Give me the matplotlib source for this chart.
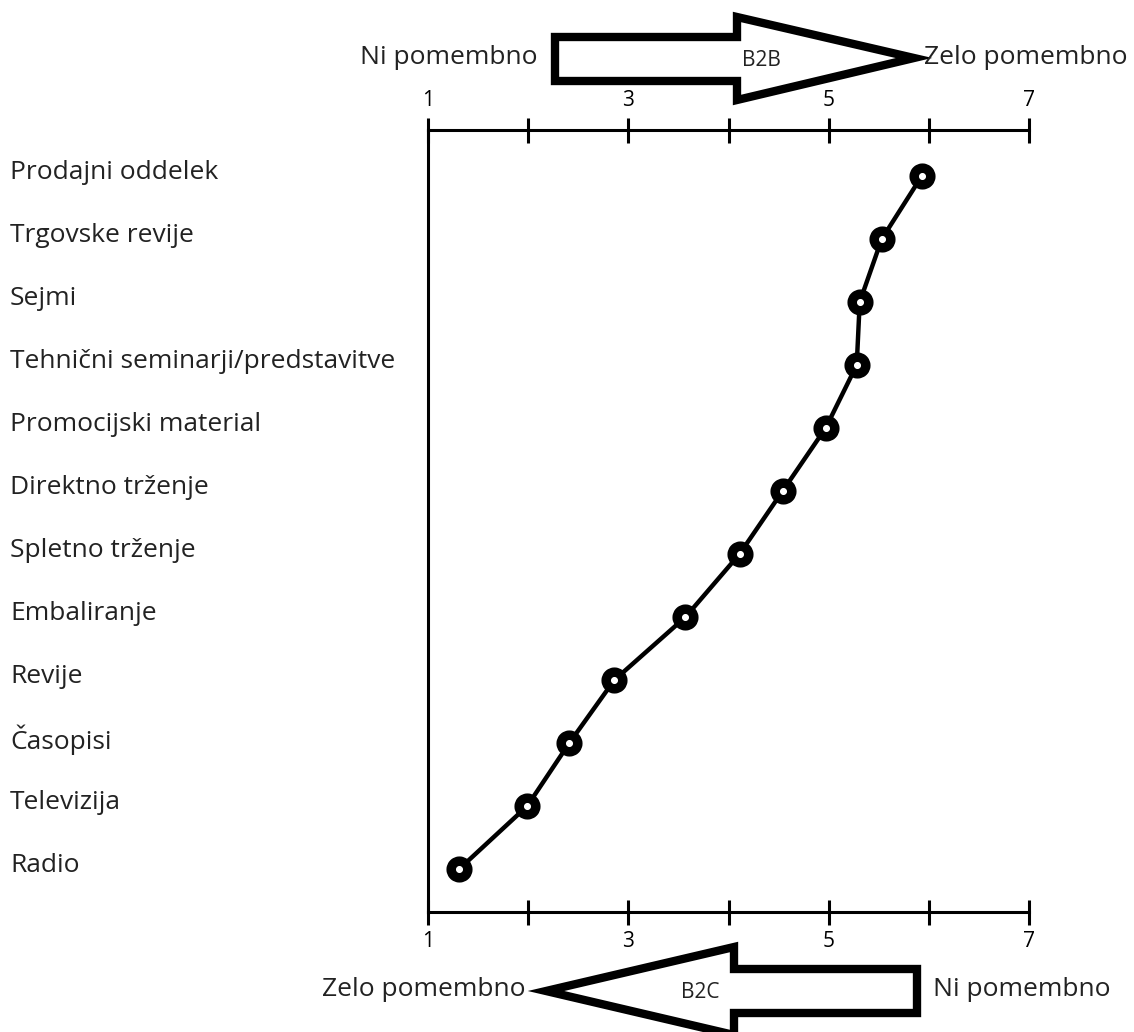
import numpy as np
import matplotlib.pyplot as plt
from matplotlib.patches import Polygon
from matplotlib.ticker import FixedLocator, NullFormatter
from matplotlib.transforms import blended_transform_factory

plt.rcParams['font.family'] = ['Open Sans', 'DejaVu Sans']

categories = ['Prodajni oddelek', 'Trgovske revije', 'Sejmi',
              'Tehnični seminarji/predstavitve', 'Promocijski material',
              'Direktno trženje', 'Spletno trženje', 'Embaliranje', 'Revije',
              'Časopisi', 'Televizija', 'Radio']
scores = [5.93, 5.53, 5.31, 5.28, 4.97, 4.54, 4.11, 3.57, 2.86, 2.41, 1.99, 1.31]
major_ticks = [1, 3, 5, 7]
minor_ticks = [2, 4, 6]

W, H = 1134, 1032


def px(x, y):
    # pixel position (from top-left) -> figure fraction
    return x / W, 1 - y / H


fig = plt.figure(figsize=(W / 100, H / 100), dpi=100)
left, top = px(428, 130)
right, bottom = px(1029, 912)
ax = fig.add_axes([left, bottom, right - left, top - bottom])

ypos = np.arange(len(categories))
ax.plot(scores, ypos, color='black', linewidth=3.2, marker='o', markersize=12,
        markerfacecolor='white', markeredgecolor='black', markeredgewidth=6.8,
        zorder=3, clip_on=False)

ax.set_xlim(1, 7)
ax.set_ylim(11.68, -0.73)

for side in ['top', 'bottom', 'left']:
    ax.spines[side].set_linewidth(2.2)
ax.spines['right'].set_visible(False)

ax.xaxis.set_major_locator(FixedLocator(major_ticks))
ax.xaxis.set_minor_locator(FixedLocator(minor_ticks))
ax.xaxis.set_minor_formatter(NullFormatter())
ax.set_xticklabels([str(t) for t in major_ticks])
ax.tick_params(axis='x', which='both', top=True, bottom=True, labeltop=True,
               labelbottom=True, direction='inout', length=18, width=2.2,
               labelsize=15, pad=5)
ax.set_yticks([])

# category labels at the left edge
lab_tr = blended_transform_factory(fig.transFigure, ax.transData)
for y, name in zip(ypos, categories):
    ax.text(10 / W, y - 0.06, name, transform=lab_tr,
            ha='left', va='center', fontsize=19, color='#222222')

# top arrow (B2B, pointing right)
top_arrow = [(555, 37), (737, 37), (737, 17), (914, 58), (737, 100), (737, 81), (555, 81)]
fig.patches.append(Polygon([px(*p) for p in top_arrow], closed=True, facecolor='white',
                           edgecolor='black', linewidth=6, joinstyle='miter',
                           transform=fig.transFigure))
fig.text(*px(761, 60), 'B2B', ha='center', va='center', fontsize=15, color='#222222')
fig.text(*px(537, 58), 'Ni pomembno', ha='right', va='center', fontsize=19, color='#222222')
fig.text(*px(924, 58), 'Zelo pomembno', ha='left', va='center', fontsize=19, color='#222222')

# bottom arrow (B2C, pointing left)
bot_arrow = [(917, 969), (734, 969), (734, 947), (546, 991), (734, 1035), (734, 1013), (917, 1013)]
fig.patches.append(Polygon([px(*p) for p in bot_arrow], closed=True, facecolor='white',
                           edgecolor='black', linewidth=6, joinstyle='miter',
                           transform=fig.transFigure))
fig.text(*px(700, 993), 'B2C', ha='center', va='center', fontsize=15, color='#222222')
fig.text(*px(526, 990), 'Zelo pomembno', ha='right', va='center', fontsize=19, color='#222222')
fig.text(*px(933, 990), 'Ni pomembno', ha='left', va='center', fontsize=19, color='#222222')

fig.savefig('out.png', dpi=100)
